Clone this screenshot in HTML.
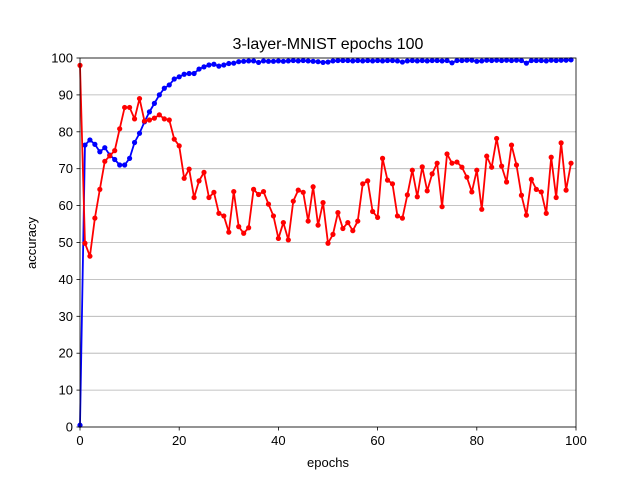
<!DOCTYPE html>
<html><head><meta charset="utf-8"><style>
body{margin:0;background:#fff;}
svg{display:block;font-family:"Liberation Sans","DejaVu Sans",sans-serif;}
</style></head><body>
<svg id="chart" width="640" height="480" viewBox="0 0 640 480">
<rect width="640" height="480" fill="#fff"/>
<g id="grid"></g><g id="series"></g><g id="axes"></g>
<text x="328" y="49" text-anchor="middle" font-size="16">3-layer-MNIST epochs 100</text>
<text x="328" y="467" text-anchor="middle" font-size="13">epochs</text>
<text x="36" y="243" text-anchor="middle" font-size="13" transform="rotate(-90 36 243)">accuracy</text>
</svg>
<script>
const xTicks=[0,20,40,60,80,100];
const yTicks=[0,10,20,30,40,50,60,70,80,90,100];
const redValues=[98,49.8,46.3,56.6,64.4,72,73.5,74.9,80.8,86.6,86.6,83.5,89,82.9,83.2,83.7,84.6,83.5,83.2,78,76.2,67.4,69.9,62.2,66.7,69,62.2,63.6,57.9,57.2,52.8,63.8,54.3,52.5,54,64.4,63,63.8,60.4,57.2,51.1,55.4,50.7,61.2,64.2,63.6,55.8,65.1,54.7,60.8,49.8,52.2,58.1,53.8,55.4,53.2,55.8,65.9,66.7,58.4,56.8,72.8,66.9,65.9,57.2,56.6,62.9,69.6,62.4,70.5,64,68.6,71.5,59.7,74,71.5,71.8,70.4,67.7,63.7,69.6,59,73.4,70.4,78.2,70.7,66.4,76.4,71,62.8,57.4,67.1,64.4,63.7,57.9,73.1,62.2,77,64.2,71.5];
const blueValues=[0.5,76.4,77.8,76.6,74.6,75.7,73.7,72.5,71,71,72.8,77.1,79.6,82.7,85.4,87.7,90,91.8,92.7,94.3,94.9,95.6,95.8,95.8,97,97.6,98.1,98.3,97.8,98.1,98.5,98.6,99,99.1,99.2,99.2,98.8,99.2,99.1,99.1,99.2,99.1,99.2,99.3,99.2,99.3,99.2,99.1,99,98.8,98.9,99.2,99.3,99.3,99.3,99.2,99.3,99.2,99.3,99.2,99.3,99.2,99.3,99.3,99.2,98.9,99.2,99.3,99.2,99.3,99.2,99.3,99.3,99.2,99.3,98.7,99.3,99.3,99.4,99.4,99.1,99.2,99.4,99.3,99.4,99.3,99.4,99.3,99.4,99.3,98.6,99.3,99.3,99.3,99.2,99.4,99.3,99.4,99.4,99.5];
const X0=80,X1=576,Y0=427,Y1=58;
const xs=v=>X0+(v-0)/100*(X1-X0);
const ys=v=>Y0-(v/100)*(Y0-Y1);
const NS="http://www.w3.org/2000/svg";
function mk(tag,attrs,parent){const e=document.createElementNS(NS,tag);for(const k in attrs)e.setAttribute(k,attrs[k]);parent.appendChild(e);return e;}
const grid=document.getElementById('grid'),axes=document.getElementById('axes'),series=document.getElementById('series');
yTicks.forEach(t=>{
  const g=mk('line',{x1:X0,x2:X1,y1:ys(t),y2:ys(t),stroke:'#b0b0b0','stroke-width':0.8},grid);
  
  
  const tk=mk('line',{x1:X0-3.5,x2:X0,y1:ys(t),y2:ys(t),stroke:'#000','stroke-width':0.8},axes);
  
  
  const l=mk('text',{x:X0-7,y:ys(t)+4.5,'text-anchor':'end','font-size':13},axes);
  l.textContent=t;
  
  
});
xTicks.forEach(t=>{
  const tk=mk('line',{x1:xs(t),x2:xs(t),y1:Y0,y2:Y0+3.5,stroke:'#000','stroke-width':0.8},axes);
  
  
  const l=mk('text',{x:xs(t),y:Y0+18,'text-anchor':'middle','font-size':13},axes);
  l.textContent=t;
  
  
});
const frame=mk('rect',{x:X0,y:Y1,width:X1-X0,height:Y0-Y1,fill:'none',stroke:'#000','stroke-width':0.8},axes);


function drawSeries(vals,color,name){
  const g=mk('g',{},series);
  
  
  const pts=vals.map((v,i)=>xs(i)+','+ys(v)).join(' ');
  mk('polyline',{points:pts,fill:'none',stroke:color,'stroke-width':1.8,'stroke-linejoin':'round'},g);
  vals.forEach((v,i)=>{
    const c=mk('circle',{cx:xs(i),cy:ys(v),r:2.6,fill:color},g);
    
    
  });
}
drawSeries(blueValues,'#0000ff','blue-series');
drawSeries(redValues,'#ff0000','red-series');
</script>
</body></html>
